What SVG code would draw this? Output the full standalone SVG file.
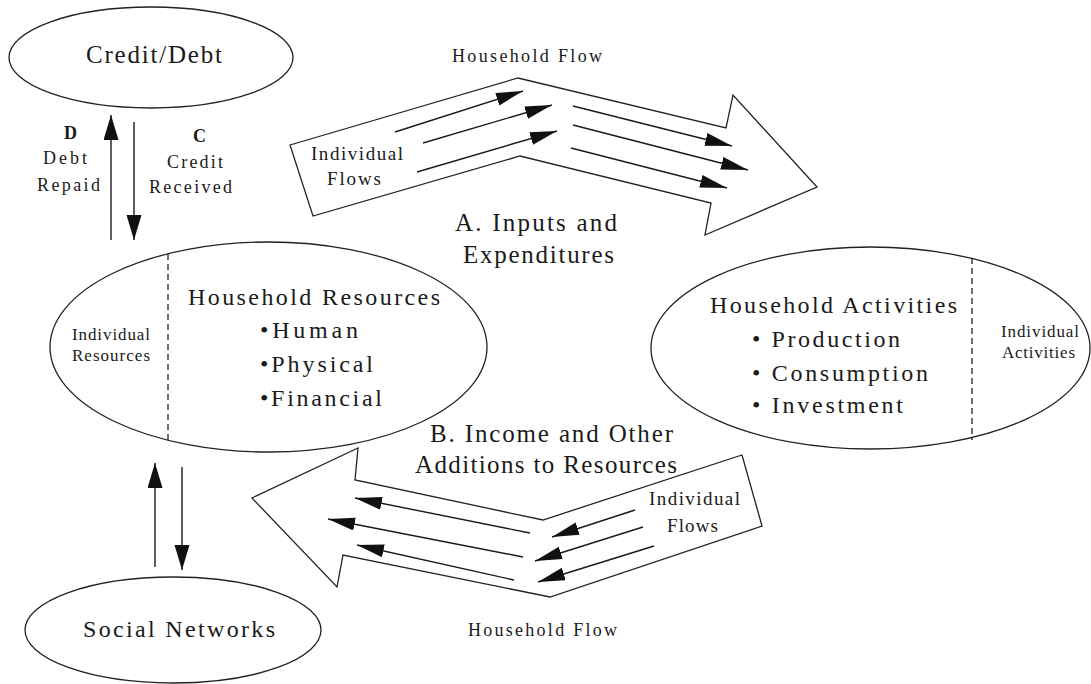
<svg xmlns="http://www.w3.org/2000/svg" width="1091" height="684" viewBox="0 0 1091 684">
<style>
text{font-family:"Liberation Serif","Times New Roman","DejaVu Serif",serif;fill:#1a1a1a}
.big{font-size:24px}
.lab{font-size:25px}
.sm{font-size:17px}
.mid{font-size:19px}
.hf{font-size:18px}
.dc{font-size:18px}
.b{font-weight:bold}
.shape{fill:#fff;stroke:#222;stroke-width:1.3}
.dash{stroke:#222;stroke-width:1.3;stroke-dasharray:6,4;fill:none}
.ln{stroke:#1a1a1a;stroke-width:1.4;fill:none}
.fl{marker-end:url(#ah)}
.vl{marker-end:url(#av)}
</style>
<defs>
<marker id="ah" markerUnits="userSpaceOnUse" markerWidth="28" markerHeight="14" refX="27" refY="6.5" orient="auto">
<path d="M0,0 L27,6.5 L0,13 z" fill="#111"/>
</marker>
<marker id="av" markerUnits="userSpaceOnUse" markerWidth="26" markerHeight="16" refX="25" refY="7.5" orient="auto">
<path d="M0,0 L25,7.5 L0,15 z" fill="#111"/>
</marker>
</defs>
<rect width="1091" height="684" fill="#fff"/>

<g id="flow-a">
<polygon class="shape" points="290,145 518,78 726,128 733,95 817,187 705,235 711,203 520,156 313,216"/>
<text class="mid" x="311" y="160" textLength="92" lengthAdjust="spacing">Individual</text>
<text class="mid" x="327" y="185" textLength="54" lengthAdjust="spacing">Flows</text>
</g>
<g id="flow-b">
<polygon class="shape" points="252,498 358,448 355,480 543,520 742,455 762,526 550,597 343,555 337,587"/>
<text class="mid" x="649" y="505" textLength="91" lengthAdjust="spacing">Individual</text>
<text class="mid" x="667" y="532" textLength="51" lengthAdjust="spacing">Flows</text>
</g>

<g id="credit-debt">
<ellipse class="shape" cx="151" cy="57.5" rx="142" ry="50.5"/>
<text class="lab" x="86" y="63" textLength="136" lengthAdjust="spacing">Credit/Debt</text>
</g>

<g id="household-resources">
<ellipse class="shape" cx="268.5" cy="347" rx="218.5" ry="105"/>
<line class="dash" x1="168" y1="254" x2="168" y2="440"/>
<text class="sm" x="72" y="340" textLength="78" lengthAdjust="spacing">Individual</text>
<text class="sm" x="72" y="361" textLength="78" lengthAdjust="spacing">Resources</text>
<text class="big" x="188" y="305" textLength="252" lengthAdjust="spacing">Household Resources</text>
<text class="big" x="260" y="338" textLength="98" lengthAdjust="spacing">•Human</text>
<text class="big" x="260" y="372" textLength="113" lengthAdjust="spacing">•Physical</text>
<text class="big" x="260" y="406" textLength="122" lengthAdjust="spacing">•Financial</text>
</g>

<g id="household-activities">
<ellipse class="shape" cx="870.5" cy="348" rx="219.5" ry="101"/>
<line class="dash" x1="972" y1="258" x2="972" y2="440"/>
<text class="big" x="710" y="313" textLength="247" lengthAdjust="spacing">Household Activities</text>
<text class="big" x="752" y="347" textLength="148" lengthAdjust="spacing">• Production</text>
<text class="big" x="752" y="381" textLength="176" lengthAdjust="spacing">• Consumption</text>
<text class="big" x="752" y="413" textLength="151" lengthAdjust="spacing">• Investment</text>
<text class="sm" x="1001" y="337" textLength="78" lengthAdjust="spacing">Individual</text>
<text class="sm" x="1002" y="358" textLength="73" lengthAdjust="spacing">Activities</text>
</g>

<g id="social-networks">
<ellipse class="shape" cx="173" cy="630" rx="148" ry="53"/>
<text class="big" x="83" y="637" textLength="192" lengthAdjust="spacing">Social Networks</text>
</g>

<g id="connectors">
<line class="ln vl" x1="111" y1="240" x2="111" y2="115"/>
<line class="ln vl" x1="134" y1="122" x2="134" y2="240"/>
<line class="ln vl" x1="155" y1="567" x2="155" y2="463"/>
<line class="ln vl" x1="182" y1="467" x2="182" y2="570"/>
<line class="ln fl" x1="395" y1="132" x2="523" y2="91"/>
<line class="ln fl" x1="423" y1="143" x2="552" y2="105"/>
<line class="ln fl" x1="417" y1="172" x2="557" y2="131"/>
<line class="ln fl" x1="573" y1="106" x2="732" y2="146"/>
<line class="ln fl" x1="573" y1="125" x2="748" y2="170"/>
<line class="ln fl" x1="571" y1="148" x2="727" y2="188"/>
<line class="ln fl" x1="635" y1="510" x2="552" y2="537"/>
<line class="ln fl" x1="643" y1="527" x2="535" y2="561"/>
<line class="ln fl" x1="654" y1="546" x2="538" y2="582"/>
<line class="ln fl" x1="530" y1="533" x2="355" y2="498"/>
<line class="ln fl" x1="523" y1="557" x2="328" y2="519"/>
<line class="ln fl" x1="514" y1="580" x2="357" y2="545"/>
</g>

<g id="labels">
<text class="dc b" x="64" y="139">D</text>
<text class="dc" x="43" y="164" textLength="44" lengthAdjust="spacing">Debt</text>
<text class="dc" x="37" y="191" textLength="63" lengthAdjust="spacing">Repaid</text>
<text class="dc b" x="193" y="142">C</text>
<text class="dc" x="167" y="168" textLength="56" lengthAdjust="spacing">Credit</text>
<text class="dc" x="149" y="193" textLength="83" lengthAdjust="spacing">Received</text>
<text class="hf" x="452" y="62" textLength="150" lengthAdjust="spacing">Household Flow</text>
<text class="lab" x="455" y="231" textLength="162" lengthAdjust="spacing">A.  Inputs and</text>
<text class="lab" x="463" y="263" textLength="151" lengthAdjust="spacing">Expenditures</text>
<text class="lab" x="430" y="442" textLength="243" lengthAdjust="spacing">B.  Income and Other</text>
<text class="lab" x="415" y="473" textLength="262" lengthAdjust="spacing">Additions to Resources</text>
<text class="hf" x="468" y="636" textLength="149" lengthAdjust="spacing">Household Flow</text>
</g>
</svg>
